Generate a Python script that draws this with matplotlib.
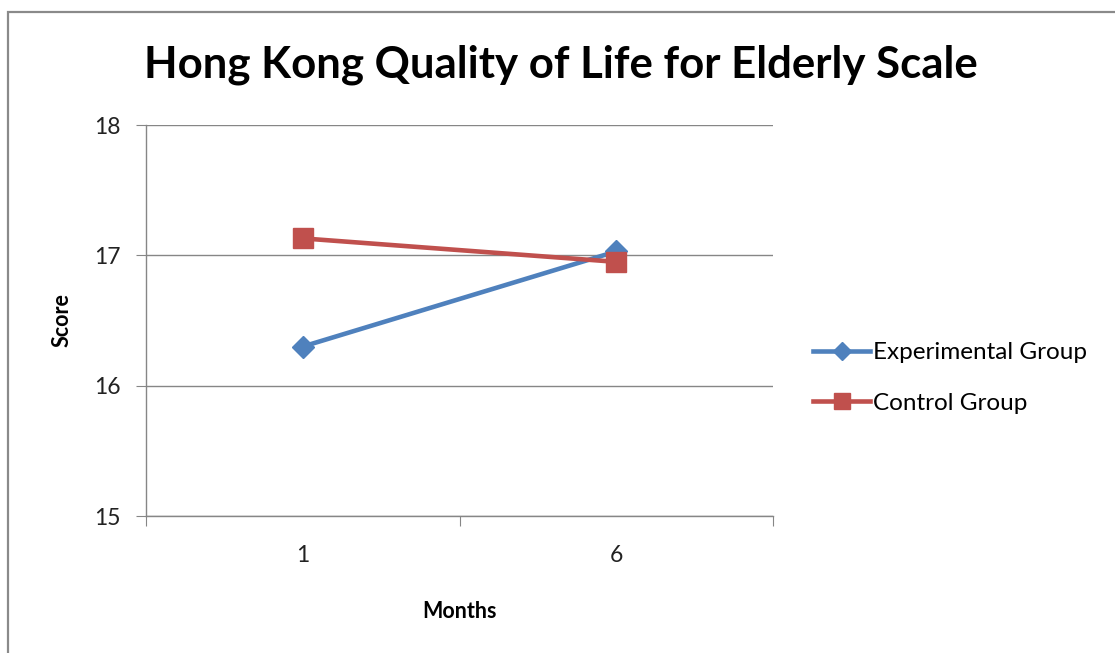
import matplotlib.pyplot as plt
from matplotlib.patches import Rectangle

plt.rcParams['font.family'] = ['Lato', 'DejaVu Sans']

# Score at each follow-up month
months = ['1', '6']
experimental = [16.30, 17.03]
control = [17.13, 16.95]
series_names = ['Experimental Group', 'Control Group']

fig = plt.figure(figsize=(11.15, 6.53), dpi=100)

# outer chart frame (runs off the right and bottom edges)
fig.patches.append(Rectangle((8 / 1115, -0.05), 1.2, 1 - 12 / 653 + 0.05,
                             transform=fig.transFigure, fill=False,
                             edgecolor='#8a8a8a', linewidth=1.6))

ax = fig.add_axes([146 / 1115, 1 - 516 / 653, 627 / 1115, 391 / 653])

x = range(len(months))
ax.plot(x, experimental, color='#4f81bd', lw=3.3, marker='D', ms=11,
        label=series_names[0], zorder=3)
ax.plot(x, control, color='#c0504d', lw=3.3, marker='s', ms=14,
        label=series_names[1], zorder=3)

ax.set_xlim(-0.5, len(months) - 0.5)
ax.set_ylim(15, 18)
ax.set_yticks([15, 16, 17, 18])
ax.set_xticks([-0.5, 0.5, 1.5])
ax.set_xticklabels([])
ax.set_xticks(list(x), minor=True)
ax.set_xticklabels(months, minor=True)
ax.tick_params(axis='x', which='minor', length=0, pad=21, labelsize=16.5, labelcolor='#222222')
ax.tick_params(axis='x', which='major', length=7, color='#868686')
ax.tick_params(axis='y', length=7, color='#868686', pad=11, labelsize=16.5, labelcolor='#222222')

ax.grid(axis='y', color='#868686', lw=1)
ax.set_axisbelow(True)
for side in ['top', 'right']:
    ax.spines[side].set_visible(False)
for side in ['left', 'bottom']:
    ax.spines[side].set_color('#868686')
    ax.spines[side].set_linewidth(1)

ax.set_ylabel('Score', fontsize=15.5, fontweight='bold', labelpad=16)
ax.set_xlabel('Months', fontsize=15.5, fontweight='bold', labelpad=25)

fig.text(0.503, 1 - 65 / 653, 'Hong Kong Quality of Life for Elderly Scale',
         ha='center', va='center', fontsize=31.5, fontweight='bold')

ax.legend(loc='center left', bbox_to_anchor=(1.064, 0.353), frameon=False,
          fontsize=17.5, handlelength=2.35, handletextpad=0.1, labelspacing=1.2,
          markerscale=0.8, borderaxespad=0, borderpad=0)

fig.savefig('out.png', dpi=100)
